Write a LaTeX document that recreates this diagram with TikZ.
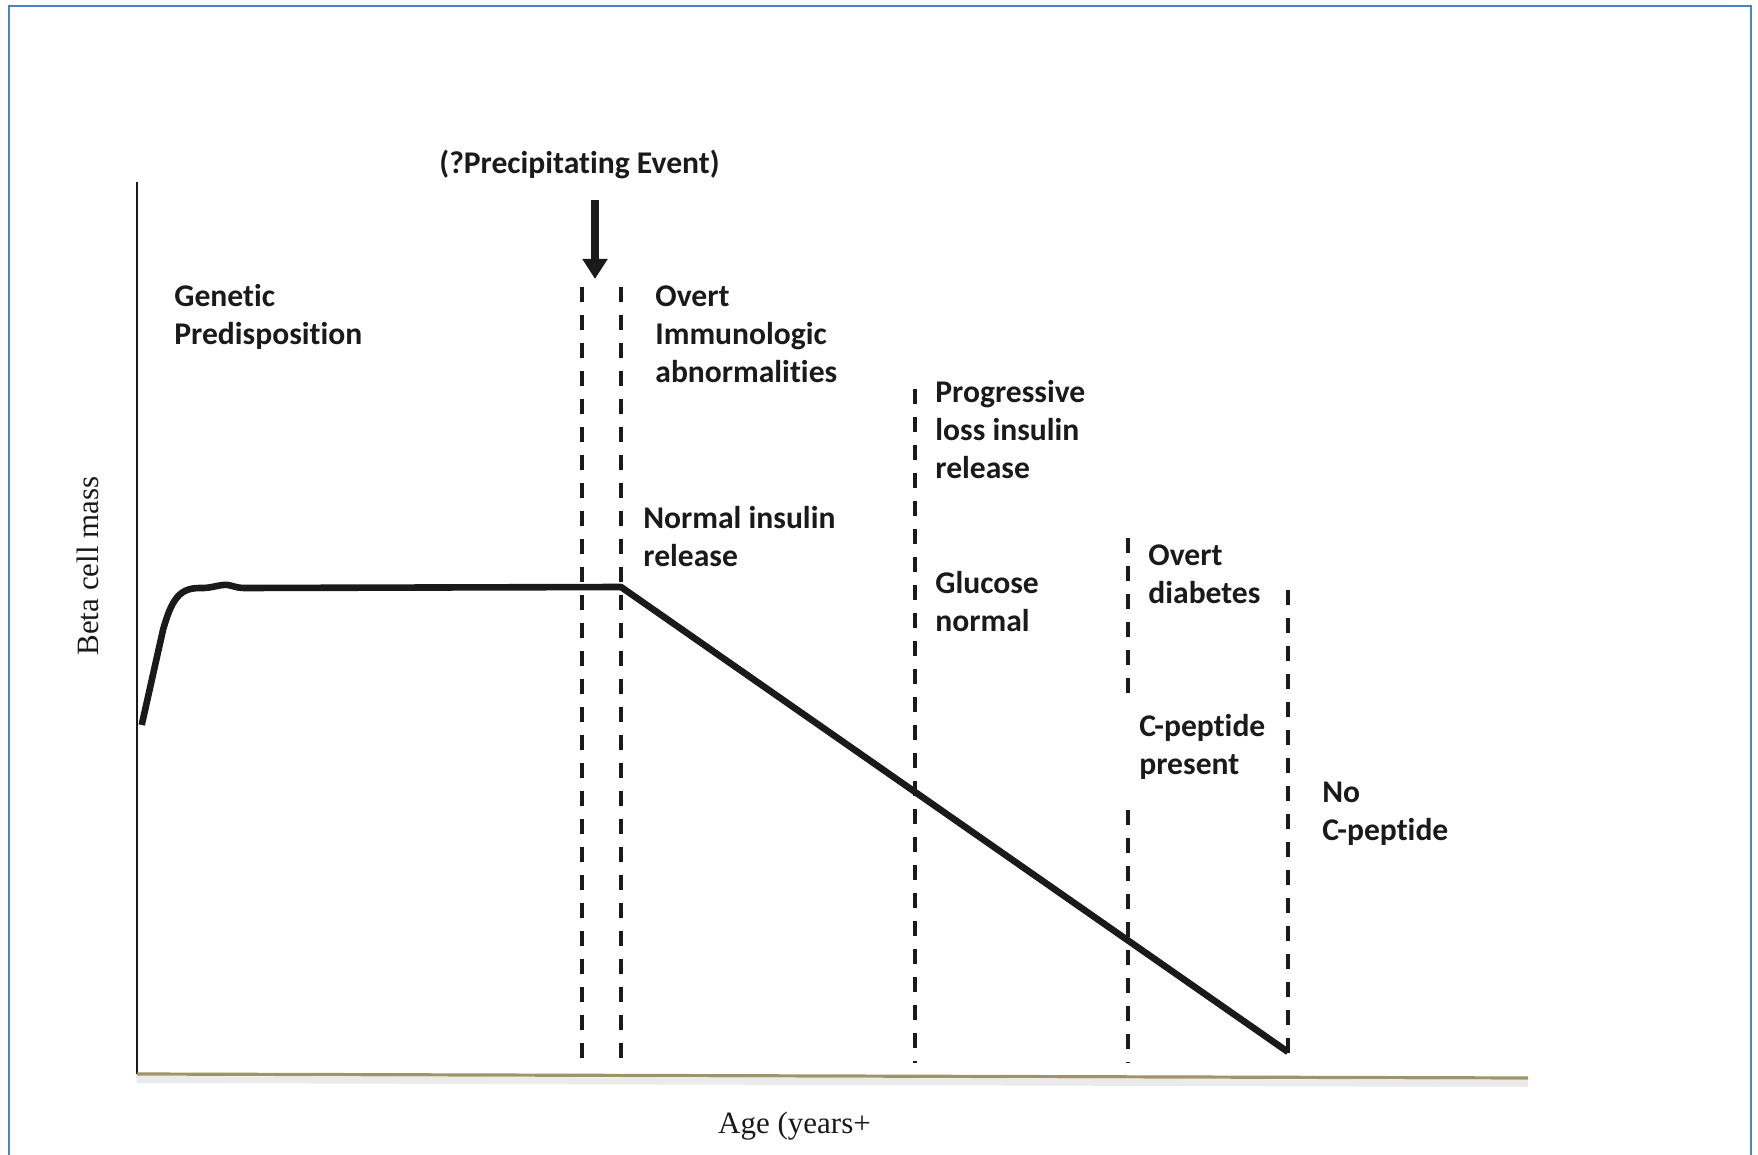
\documentclass[tikz,border=0pt]{standalone}
\usepackage{fontspec}
\setmainfont{Liberation Serif}
\newfontfamily\calib[Ligatures={NoCommon,NoContextual},Contextuals=NoAlternate]{Carlito}
\newcommand\nolig{\kern0pt}
\usetikzlibrary{arrows.meta}
\definecolor{frameblue}{RGB}{79,129,189}
\definecolor{axisolive}{RGB}{158,148,105}
\definecolor{ink}{RGB}{26,26,26}
\begin{document}
\begin{tikzpicture}[x=0.5pt,y=-0.5pt,
  lbl/.style={font=\calib\bfseries\fontsize{15.8}{19}\selectfont, align=left, inner sep=0pt, anchor=base west, text=ink},
  serif/.style={font=\fontsize{15.5}{18}\selectfont, inner sep=0pt, text=ink},
  stage/.style={line width=2pt, dash pattern=on 7.5pt off 6.5pt, draw=ink},
  mass/.style={line width=3.3pt, draw=ink, line join=round},
  event/.style={line width=4pt, draw=ink, -{Triangle[width=12pt,length=10pt]}}
]
\useasboundingbox (0,0) rectangle (1758,1155);
% frame
\draw[frameblue, line width=1.2pt] (9,1160) |- (1751,6) -- (1751,1160);
% axes
\coordinate (O) at (137,1074);
\coordinate (ytop) at (137,182);
\coordinate (xend) at (1528,1078);
\fill[black!8] (137,1076) -- (1528,1080) -- (1528,1087) -- (137,1083) -- cycle;
\draw[line width=0.8pt, ink] (ytop) -- (O);
\draw[line width=1.6pt, axisolive] (O) -- (xend);
\node[serif, rotate=90] (ylab) at (87.5,566) {Beta cell mass};
\node[serif] (xlab) at (794.5,1126) {Age (years+};
% event
\node[lbl] (precip) at (439,174) {(?Precipitat\nolig{}ing Event)};
\coordinate (arrtop) at (595,200);
\coordinate (arrtip) at (595,279);
\draw[event] (arrtop) -- (arrtip);
% stage lines
\coordinate (d1t) at (582,287); \coordinate (d1b) at (582,1063);
\coordinate (d2t) at (621,287); \coordinate (d2b) at (621,1063);
\coordinate (d3t) at (915,389); \coordinate (d3b) at (915,1063);
\coordinate (d4t) at (1128,538); \coordinate (d4m) at (1128,695);
\coordinate (d4n) at (1128,810); \coordinate (d4b) at (1128,1063);
\coordinate (d5t) at (1288,590); \coordinate (d5b) at (1288,1063);
\draw[stage] (d1t) -- (d1b);
\draw[stage] (d2t) -- (d2b);
\draw[stage] (d3t) -- (d3b);
\draw[stage] (d4t) -- (d4m);
\draw[stage] (d4n) -- (d4b);
\draw[stage] (d5t) -- (d5b);
% beta cell mass curve
\coordinate (c0) at (141.7,725);
\coordinate (onset) at (621,587);
\coordinate (cend) at (1288,1052);
\draw[mass] (c0) -- (163,630) .. controls (172,598) and (180,588) .. (200,588)
  .. controls (212,588.5) and (220,584) .. (228,585)
  .. controls (234,586) and (236,588) .. (245,588) -- (onset) -- (cend);
% labels (anchored at the baseline of the last line)
\node[lbl] (gen) at (174,345) {Genet\nolig{}ic\\Predisposit\nolig{}ion};
\node[lbl] (imm) at (655,383) {Overt\\Immunologic\\abnormalit\nolig{}ies};
\node[lbl] (norm) at (643,566) {Normal insulin\\release};
\node[lbl] (prog) at (935,479) {Progressive\\loss insulin\\release};
\node[lbl] (gluc) at (935,631) {Glucose\\normal};
\node[lbl] (diab) at (1148,603) {Overt\\diabetes};
\node[lbl] (cpep) at (1139,774) {C-pept\nolig{}ide\\present};
\node[lbl] (nocp) at (1322,840) {No\\C-pept\nolig{}ide};
\end{tikzpicture}
\end{document}
